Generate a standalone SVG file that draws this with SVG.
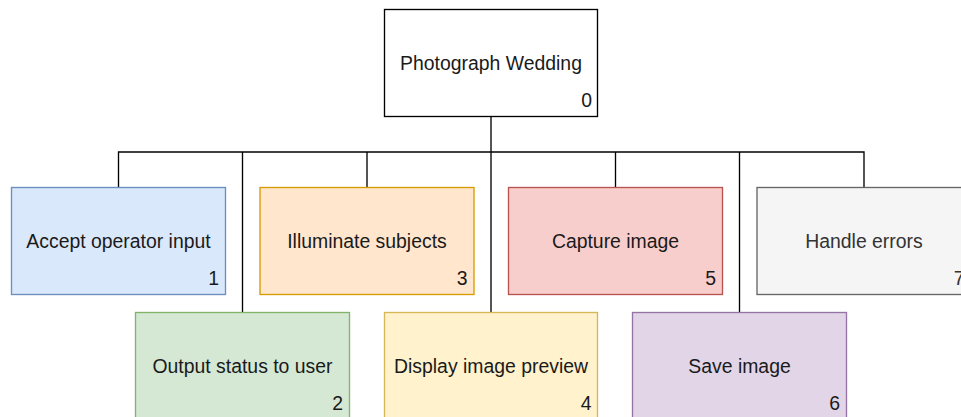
<svg xmlns="http://www.w3.org/2000/svg" width="961" height="417" viewBox="0 0 961 417">
  <style>
    .box { stroke-width: 1.34; }
    .label { font-family: "Liberation Sans", Arial, sans-serif; font-size: 19.4px; fill: #1a1a1a; text-anchor: middle; }
    .num { font-family: "Liberation Sans", Arial, sans-serif; font-size: 19.4px; fill: #1a1a1a; text-anchor: end; }
    .wire { fill: none; stroke: #000; stroke-width: 1.34; }
  </style>
  <rect width="961" height="417" fill="#ffffff"/>

  <!-- tree connectors -->
  <g id="connectors">
    <path class="wire" d="M491 116.5 V312.5"/>
    <path class="wire" d="M118.5 187.5 V152 H864 V187.5"/>
    <path class="wire" d="M242.5 152 V312.5"/>
    <path class="wire" d="M367 152 V187.5"/>
    <path class="wire" d="M615.5 152 V187.5"/>
    <path class="wire" d="M739.5 152 V312.5"/>
  </g>

  <g id="node0">
    <rect class="box" x="384.5" y="9.5" width="213" height="107" fill="#ffffff" stroke="#000000"/>
    <text class="label" x="491" y="70">Photograph Wedding</text>
    <text class="num" x="592" y="107">0</text>
  </g>

  <g id="node1">
    <rect class="box" x="11.5" y="187.5" width="214" height="107" fill="#dae8fc" stroke="#6c8ebf"/>
    <text class="label" x="118.5" y="247.5">Accept operator input</text>
    <text class="num" x="219" y="284.5">1</text>
  </g>

  <g id="node2">
    <rect class="box" x="135.5" y="312.5" width="214" height="107" fill="#d5e8d4" stroke="#82b366"/>
    <text class="label" x="242.5" y="372.5">Output status to user</text>
    <text class="num" x="343" y="409.5">2</text>
  </g>

  <g id="node3">
    <rect class="box" x="260" y="187.5" width="214" height="107" fill="#ffe6cc" stroke="#d79b00"/>
    <text class="label" x="367" y="247.5">Illuminate subjects</text>
    <text class="num" x="467.5" y="284.5">3</text>
  </g>

  <g id="node4">
    <rect class="box" x="384.5" y="312.5" width="213" height="107" fill="#fff2cc" stroke="#d6b656"/>
    <text class="label" x="491" y="372.5">Display image preview</text>
    <text class="num" x="591.5" y="409.5">4</text>
  </g>

  <g id="node5">
    <rect class="box" x="508.5" y="187.5" width="214" height="107" fill="#f8cecc" stroke="#b85450"/>
    <text class="label" x="615.5" y="247.5">Capture image</text>
    <text class="num" x="716" y="284.5">5</text>
  </g>

  <g id="node6">
    <rect class="box" x="632.5" y="312.5" width="214" height="107" fill="#e1d5e7" stroke="#9673a6"/>
    <text class="label" x="739.5" y="372.5">Save image</text>
    <text class="num" x="840" y="409.5">6</text>
  </g>

  <g id="node7">
    <rect class="box" x="757" y="187.5" width="214" height="107" fill="#f5f5f5" stroke="#666666"/>
    <text class="label" x="864" y="247.5" style="fill:#333333">Handle errors</text>
    <text class="num" x="964.5" y="284.5" style="fill:#333333">7</text>
  </g>
</svg>
